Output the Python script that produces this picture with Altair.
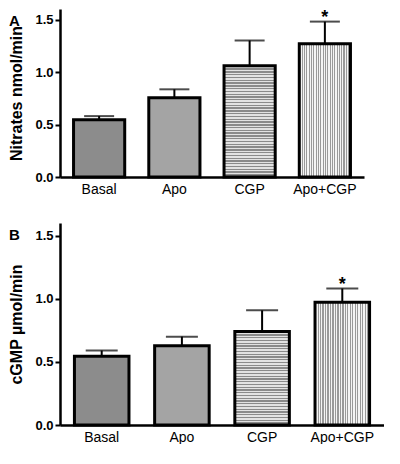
import altair as alt
import pandas as pd

categories = ["Basal", "Apo", "CGP", "Apo+CGP"]
nitrates_mean = [0.545, 0.755, 1.06, 1.27]
nitrates_err = [0.035, 0.08, 0.24, 0.21]
nitrates_sig = ["", "", "", "*"]
cgmp_mean = [0.545, 0.627, 0.74, 0.973]
cgmp_err = [0.045, 0.073, 0.168, 0.108]
cgmp_sig = ["", "", "", "*"]

FONT = "Liberation Sans"


def stripes(c1, c2, n, horizontal):
    stops = []
    for i in range(n):
        a = i / n
        b = (i + 0.5) / n
        c = (i + 1) / n
        stops += [alt.GradientStop(offset=a, color=c1), alt.GradientStop(offset=b, color=c1),
                  alt.GradientStop(offset=b, color=c2), alt.GradientStop(offset=c, color=c2)]
    if horizontal:
        return alt.LinearGradient(gradient="linear", x1=0, y1=0, x2=0, y2=1, stops=stops)
    return alt.LinearGradient(gradient="linear", x1=0, y1=0, x2=1, y2=0, stops=stops)


def panel(means, errs, sig, ytitle, letter, w, h, nh, cap, letter_dy):
    df = pd.DataFrame({"cat": categories, "mean": means,
                       "upper": [m + e for m, e in zip(means, errs)], "sig": sig})
    x = alt.X("cat:N", sort=categories,
              scale=alt.Scale(paddingInner=0.32, paddingOuter=0.18),
              axis=alt.Axis(title=None, labelAngle=0, ticks=False, labelFontSize=14,
                            labelFont=FONT, labelColor="black", labelPadding=5,
                            domainColor="black", domainWidth=2.5))
    y = alt.Y("mean:Q", scale=alt.Scale(domain=[0, 1.5]),
              axis=alt.Axis(title=ytitle, values=[0, 0.5, 1.0, 1.5], format=".1f",
                            grid=False, tickColor="black", tickWidth=2, tickSize=5,
                            labelFontSize=13, labelFontWeight="bold", labelFont=FONT,
                            labelColor="black", labelPadding=2,
                            titleFontSize=16, titleFont=FONT, titleFontWeight="bold",
                            titleColor="black", titlePadding=10,
                            domainColor="black", domainWidth=2.5))
    base = alt.Chart(df)
    fills = {
        "Basal": "#8c8c8c",
        "Apo": "#a4a4a4",
        "CGP": stripes("#8a8a8a", "#e2e2e2", nh, True),
        "Apo+CGP": stripes("#999999", "#f4f4f4", 22, False),
    }
    layers = []
    for c in categories:
        layers.append(base.transform_filter(alt.datum.cat == c)
                      .mark_bar(fill=fills[c], stroke="black", strokeWidth=3)
                      .encode(x=x, y=y))
    err_line = base.mark_rule(color="black", strokeWidth=2).encode(
        x=alt.X("cat:N", sort=categories), y="mean:Q", y2="upper:Q")
    err_cap = base.mark_tick(color="black", thickness=2, size=cap).encode(
        x=alt.X("cat:N", sort=categories), y="upper:Q")
    star = base.mark_text(fontSize=18, fontWeight="bold", font=FONT, dy=1,
                          baseline="alphabetic", color="black").encode(
        x=alt.X("cat:N", sort=categories), y="upper:Q", text="sig:N")
    return alt.layer(*layers, err_line, err_cap, star).properties(
        width=w, height=h,
        title=alt.Title(letter, anchor="start", frame="bounds", fontSize=15,
                        fontWeight="bold", font=FONT, color="black", baseline="top",
                        dy=letter_dy, offset=0))


a = panel(nitrates_mean, nitrates_err, nitrates_sig, "Nitrates nmol/min", "A", 304, 168, 40, 30, 20)
b = panel(cgmp_mean, cgmp_err, cgmp_sig, "cGMP µmol/min", "B", 324, 202, 34, 32, 20)

chart = alt.vconcat(a, b, spacing=27).properties(padding=0).configure_view(stroke=None)
chart.save("out.html", embed_options={"renderer": "svg", "actions": False})
